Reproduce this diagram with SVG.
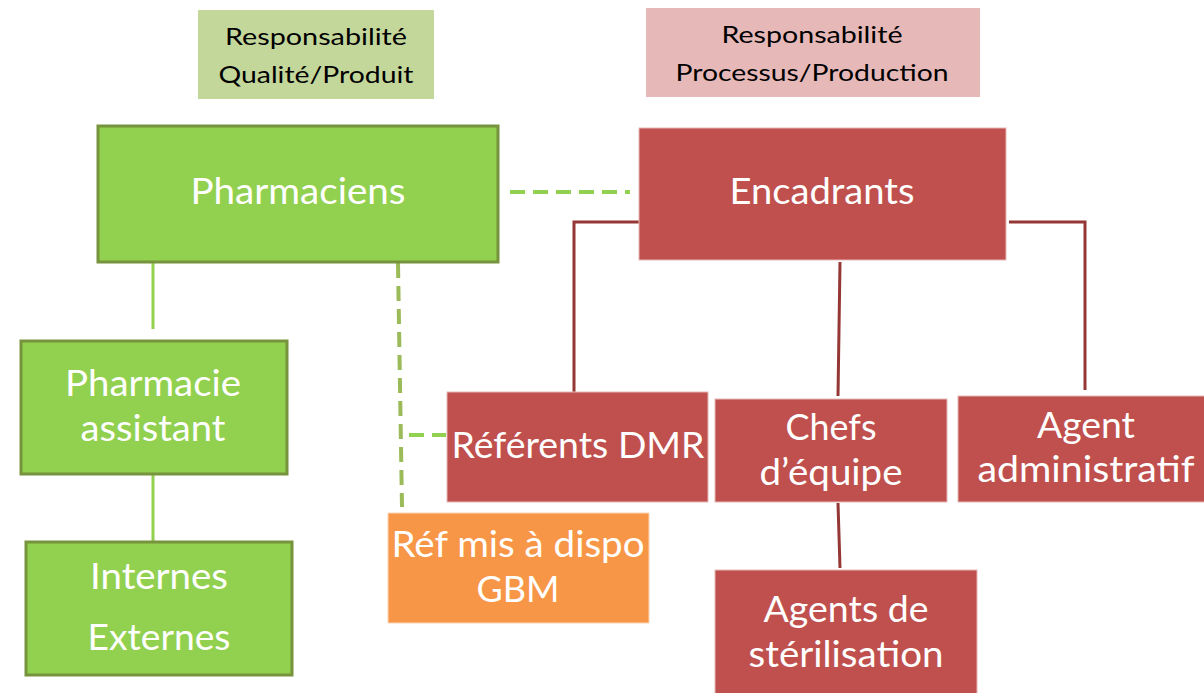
<svg xmlns="http://www.w3.org/2000/svg" width="1204" height="693" viewBox="0 0 1204 693">
<style>
.g{fill:#92d050;stroke:#77933c;stroke-width:3}
.r{fill:#c0504d;stroke:#e6b9b8;stroke-width:1}
.o{fill:#f79646;stroke:#fbd5b5;stroke-width:1}
.t{font-family:Lato,"Liberation Sans",sans-serif;fill:#ffffff;font-size:37px;text-anchor:middle}
.h{font-family:Lato,"Liberation Sans",sans-serif;fill:#000000;font-size:24px;text-anchor:middle}
.cg{stroke:#92d050;stroke-width:3;fill:none}
.cd{stroke:#9bbb59;stroke-width:4;fill:none;stroke-dasharray:15 8}
.cr{stroke:#953735;stroke-width:3;fill:none}
</style>
<rect width="1204" height="693" fill="#ffffff"/>
<g id="connectors">
<line class="cd" x1="510" y1="192" x2="630" y2="192" style="stroke:#92d050"/>
<line class="cd" x1="398" y1="263" x2="402" y2="507"/>
<line class="cd" x1="409" y1="435" x2="446" y2="435" style="stroke:#92d050"/>
<line class="cg" x1="153" y1="263" x2="153" y2="329"/>
<line class="cg" x1="153" y1="475" x2="153" y2="541"/>
<polyline class="cr" points="645,222 574,222 574,393"/>
<polyline class="cr" points="1009,222 1085,222 1085,390"/>
<line class="cr" x1="840" y1="262" x2="838" y2="396"/>
<line class="cr" x1="838" y1="503" x2="840" y2="568"/>
</g>
<g id="hdr-qualite">
<rect x="198" y="10" width="236" height="89" fill="#c4d79b"/>
<text class="h" x="316" y="45" textLength="182" lengthAdjust="spacingAndGlyphs">Responsabilité</text>
<text class="h" x="316" y="83" textLength="195" lengthAdjust="spacingAndGlyphs">Qualité/Produit</text>
</g>
<g id="hdr-processus">
<rect x="646" y="8" width="334" height="89" fill="#e6b9b8"/>
<text class="h" x="812" y="43" textLength="181" lengthAdjust="spacingAndGlyphs">Responsabilité</text>
<text class="h" x="812" y="81" textLength="273" lengthAdjust="spacingAndGlyphs">Processus/Production</text>
</g>
<g id="pharmaciens">
<rect class="g" x="98" y="126" width="400" height="136"/>
<text class="t" x="298" y="204" textLength="215" lengthAdjust="spacingAndGlyphs">Pharmaciens</text>
</g>
<g id="encadrants">
<rect class="r" x="639" y="128" width="367" height="132"/>
<text class="t" x="822" y="204" textLength="185" lengthAdjust="spacingAndGlyphs">Encadrants</text>
</g>
<g id="pharmacie-assistant">
<rect class="g" x="21" y="341" width="266" height="133"/>
<text class="t" x="153" y="396" textLength="176" lengthAdjust="spacingAndGlyphs">Pharmacie</text>
<text class="t" x="153" y="441" textLength="145" lengthAdjust="spacingAndGlyphs">assistant</text>
</g>
<g id="internes-externes">
<rect class="g" x="26" y="542" width="266" height="133"/>
<text class="t" x="159" y="589" textLength="138" lengthAdjust="spacingAndGlyphs">Internes</text>
<text class="t" x="159" y="650" textLength="143" lengthAdjust="spacingAndGlyphs">Externes</text>
</g>
<g id="referents-dmr">
<rect class="r" x="447" y="392" width="261" height="110"/>
<text class="t" x="578" y="458" textLength="253" lengthAdjust="spacingAndGlyphs">Référents DMR</text>
</g>
<g id="chefs-equipe">
<rect class="r" x="715" y="399" width="232" height="103"/>
<text class="t" x="831" y="440" textLength="91" lengthAdjust="spacingAndGlyphs">Chefs</text>
<text class="t" x="831" y="485" textLength="143" lengthAdjust="spacingAndGlyphs">d’équipe</text>
</g>
<g id="agent-administratif">
<rect class="r" x="958" y="396" width="250" height="106"/>
<text class="t" x="1086" y="438" textLength="98" lengthAdjust="spacingAndGlyphs">Agent</text>
<text class="t" x="1086" y="482" textLength="217" lengthAdjust="spacingAndGlyphs">administratif</text>
</g>
<g id="ref-gbm">
<rect class="o" x="388" y="513" width="261" height="110"/>
<text class="t" x="518" y="557" textLength="253" lengthAdjust="spacingAndGlyphs">Réf mis à dispo</text>
<text class="t" x="518" y="602" textLength="83" lengthAdjust="spacingAndGlyphs">GBM</text>
</g>
<g id="agents-sterilisation">
<rect class="r" x="715" y="570" width="262" height="126"/>
<text class="t" x="846" y="622" textLength="165" lengthAdjust="spacingAndGlyphs">Agents de</text>
<text class="t" x="846" y="667" textLength="195" lengthAdjust="spacingAndGlyphs">stérilisation</text>
</g>
</svg>
